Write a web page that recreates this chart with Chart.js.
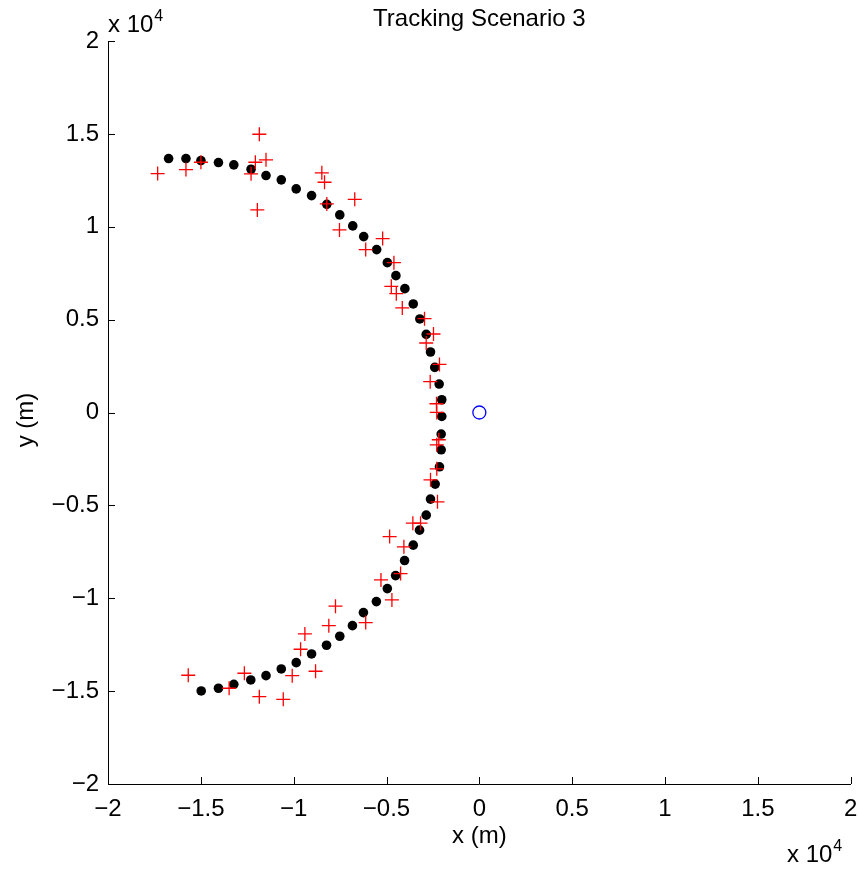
<!DOCTYPE html>
<html>
<head>
<meta charset="utf-8">
<script src="https://cdn.jsdelivr.net/npm/chart.js@4"></script>
<style>
  html, body { margin: 0; padding: 0; background: #fff; }
</style>
</head>
<body>
<canvas id="myChart" width="859" height="882"></canvas>
<script>
// estimated track (black dots), metres
const trackX = [-16736, -15801, -14996, -14051, -13224, -12295, -11490, -10668, -9863, -9036,
  -8215, -7517, -6819, -6228, -5530, -4956, -4494, -4011, -3560, -3205,
  -2862, -2631, -2400, -2164, -2024, -2024, -2056, -2056, -2148, -2379,
  -2631, -2862, -3221, -3560, -4027, -4510, -4956, -5546, -6244, -6835,
  -7517, -8231, -9036, -9863, -10668, -11490, -12311, -13224, -14051, -14980];
const trackY = [13672, 13672, 13564, 13456, 13333, 13095, 12756, 12524, 12039, 11678,
  11210, 10638, 10046, 9469, 8769, 8068, 7368, 6668, 5843, 5035,
  4205, 3257, 2427, 1533, 687, -213, -1161, -2007, -2923, -3855,
  -4663, -5525, -6334, -7142, -7971, -8780, -9480, -10180, -10773, -11474,
  -12045, -12530, -12998, -13467, -13807, -14168, -14399, -14631, -14846, -14992];

// measurements (red crosses), metres
const measX = [-17326, -15801, -14996, -11850, -12064, -11490, -12295, -11957, -8483, -8338,
  -8215, -6711, -7533, -5208, -6121, -4601, -4741, -4472, -4150, -2953,
  -2470, -2862, -2148, -2647, -2309, -2293, -2185, -2293, -2293, -2631,
  -2255, -3581, -3168, -4832, -4064, -4242, -5299, -4709, -6121, -7748,
  -8107, -9396, -9627, -8821, -10078, -12655, -15678, -13477, -11850, -10561];
const measY = [12864, 13079, 13473, 14981, 13473, 13602, 12848, 10908, 12901, 12395,
  11231, 11479, 9830, 9362, 8769, 8068, 6792, 6398, 5628, 5051,
  4227, 3742, 2589, 1657, 471, 3, -1468, -1738, -3031, -3623,
  -4809, -5956, -5956, -6678, -7233, -8672, -9011, -10089, -11312, -10428,
  -11474, -11921, -12745, -13931, -14168, -14038, -14146, -14846, -15299, -15439];

// sensor position (blue circle)
const sensorX = [0];
const sensorY = [0];

const tickValues = [-20000, -15000, -10000, -5000, 0, 5000, 10000, 15000, 20000];
const tickLabels = ['\u22122', '\u22121.5', '\u22121', '\u22120.5', '0', '0.5', '1', '1.5', '2'];

const FONT = '"Liberation Sans", Arial, Helvetica, sans-serif';

function toPoints(xs, ys) {
  return xs.map((x, i) => ({ x: x, y: ys[i] }));
}

// MATLAB style ticks pointing into the axes
const inwardTicks = {
  id: 'inwardTicks',
  beforeDatasetsDraw(chart) {
    const ctx = chart.ctx;
    const a = chart.chartArea;
    const xs = chart.scales.x, ys = chart.scales.y;
    ctx.save();
    ctx.strokeStyle = '#000';
    ctx.lineWidth = 1;
    ctx.beginPath();
    tickValues.forEach(v => {
      const px = Math.round(xs.getPixelForValue(v)) + 0.5;
      ctx.moveTo(px, a.bottom);
      ctx.lineTo(px, a.bottom - 7);
      const py = Math.round(ys.getPixelForValue(v)) + 0.5;
      ctx.moveTo(a.left, py);
      ctx.lineTo(a.left + 7, py);
    });
    ctx.stroke();
    ctx.restore();
  }
};

const labels = {
  id: 'labels',
  afterDraw(chart) {
    const ctx = chart.ctx;
    const a = chart.chartArea;
    const cx = (a.left + a.right) / 2;
    ctx.save();
    ctx.fillStyle = '#000';
    ctx.font = '24px ' + FONT;
    ctx.textBaseline = 'alphabetic';
    ctx.textAlign = 'center';
    ctx.fillText('Tracking Scenario 3', cx, 26);

    ctx.textBaseline = 'middle';
    ctx.fillText('x (m)', cx, 836);

    ctx.save();
    ctx.translate(26, 420);
    ctx.rotate(-Math.PI / 2);
    ctx.fillText('y (m)', 0, 0);
    ctx.restore();

    // exponent labels
    function expo(x, y) {
      ctx.textAlign = 'left';
      ctx.textBaseline = 'alphabetic';
      ctx.font = '24px ' + FONT;
      ctx.fillText('x 10', x, y);
      const w = ctx.measureText('x 10').width;
      ctx.font = '16px ' + FONT;
      ctx.fillText('4', x + w + 1, y - 11);
    }
    expo(108, 32);
    expo(787, 862);
    ctx.restore();
  }
};

const ctx = document.getElementById('myChart').getContext('2d');
const myChart = new Chart(ctx, {
  type: 'scatter',
  data: {
    datasets: [
      {
        label: 'track',
        data: toPoints(trackX, trackY),
        pointStyle: 'circle',
        pointRadius: 4.8,
        backgroundColor: '#000',
        borderColor: '#000',
        borderWidth: 0,
        order: 3,
      },
      {
        label: 'measurements',
        data: toPoints(measX, measY),
        pointStyle: 'cross',
        pointRadius: 7,
        borderColor: '#ff0000',
        backgroundColor: '#ff0000',
        borderWidth: 1.3,
        order: 1,
      },
      {
        label: 'sensor',
        data: toPoints(sensorX, sensorY),
        pointStyle: 'circle',
        pointRadius: 6.5,
        borderColor: '#0000ff',
        backgroundColor: 'rgba(0,0,0,0)',
        borderWidth: 1.3,
        order: 2,
      },
    ],
  },
  options: {
    responsive: false,
    animation: false,
    layout: { padding: { left: 0, right: 5, top: 41, bottom: 0 } },
    plugins: {
      legend: { display: false },
      tooltip: { enabled: false },
      title: { display: false },
    },
    scales: {
      x: {
        type: 'linear',
        min: -20000,
        max: 20000,
        afterBuildTicks: scale => { scale.ticks = tickValues.map(v => ({ value: v })); },
        afterFit: scale => {
          scale.height = 98;
          scale.paddingLeft = 0;
          scale.paddingRight = 0;
        },
        grid: { drawOnChartArea: false, drawTicks: false },
        border: { display: true, color: '#000', width: 1 },
        ticks: {
          padding: 11,
          maxRotation: 0,
          autoSkip: false,
          color: '#000',
          font: { family: FONT, size: 24 },
          callback: (value, index) => tickLabels[index],
        },
      },
      y: {
        type: 'linear',
        min: -20000,
        max: 20000,
        afterBuildTicks: scale => { scale.ticks = tickValues.map(v => ({ value: v })); },
        afterFit: scale => {
          scale.width = 108;
          scale.paddingTop = 0;
          scale.paddingBottom = 0;
        },
        grid: { drawOnChartArea: false, drawTicks: false },
        border: { display: true, color: '#000', width: 1 },
        ticks: {
          padding: 9,
          autoSkip: false,
          color: '#000',
          font: { family: FONT, size: 24 },
          callback: (value, index) => tickLabels[index],
        },
      },
    },
  },
  plugins: [inwardTicks, labels],
});
</script>
</body>
</html>
